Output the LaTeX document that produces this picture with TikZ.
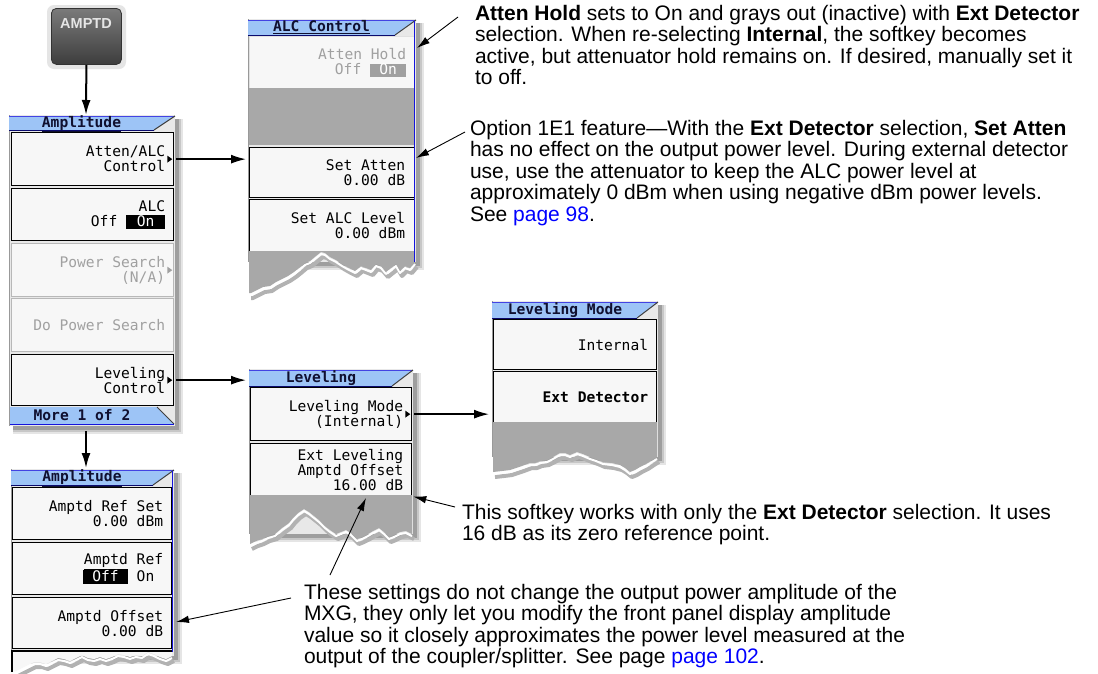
\documentclass[tikz,border=0pt]{standalone}
\usepackage{fontspec}
\setmainfont{Liberation Sans}
\newfontfamily\keyfont{DejaVu Sans Mono}
\usetikzlibrary{arrows.meta,calc}
\definecolor{titleblue}{RGB}{157,196,246}
\definecolor{titleink}{RGB}{16,16,48}
\definecolor{edgeblue}{RGB}{20,20,220}
\definecolor{keyfill}{RGB}{247,247,247}
\definecolor{panelbg}{RGB}{232,232,232}
\definecolor{slotgray}{RGB}{168,168,168}
\definecolor{dimink}{RGB}{160,160,160}
\definecolor{linkblue}{RGB}{0,0,255}
\newcommand\invtag[3]{{\setlength{\fboxsep}{0pt}\colorbox{#1}{\makebox[#2]{\rule[-2.5pt]{0pt}{12pt}\textcolor{white}{#3}}}}}
\newcommand\menuframe[4]{%
  \fill[black!10] (#1+4,#2+4) rectangle (#3+8,#4+8);
  \fill[black!22] (#1+4,#2+4) rectangle (#3+6,#4+6);
  \fill[black!38] (#1+4,#2+4) rectangle (#3+4,#4+4);
  \fill[panelbg] (#1,#2) rectangle (#3,#4);
  \draw[black!40, line width=0.8pt] (#1,#2) -- (#1,#4);
}
\newcommand\mtitlebar[4]{%
  \fill[titleblue] (#1,#2) -- (#3,#2) -- (#3-21,#4) -- (#1,#4) -- cycle;
  \draw[edgeblue!80, line width=0.8pt] (#1,#2) -- (#3,#2);
  \draw[edgeblue!50!black, line width=0.8pt] (#1,#4) -- (#3-21,#4);
  \draw[black!75, line width=1pt] (#3-21,#4) -- (#3,#2);
}
\newcommand\subtri[2]{%
  \fill[#2] ($(#1.east)+(-7,-3.5)$) -- ($(#1.east)+(-2,0)$) -- ($(#1.east)+(-7,3.5)$) -- cycle;
}
\tikzset{
  bodytext/.style={anchor=north west, inner sep=0pt, outer sep=0pt, align=left,
    font=\fontsize{21}{21.5}\selectfont},
  keytext/.style={anchor=east, inner sep=0pt, align=right,
    font=\keyfont\fontsize{14.6}{15}\selectfont},
  dimtext/.style={keytext, text=dimink},
  titletext/.style={anchor=base, inner sep=0pt,
    font=\keyfont\bfseries\fontsize{14.6}{15}\selectfont, text=titleink},
  skey/.style={draw=black, line width=1.3pt, fill=keyfill, inner sep=0pt, anchor=north west},
  dimkey/.style={skey, draw=black!28},
  flowarrow/.style={-{Latex[length=15pt,width=9pt]}, line width=1.5pt},
  callout/.style={-{Latex[length=13pt,width=7.5pt]}, line width=0.9pt},
  jagALC/.style={insert path={-- (410,268) -- (405,266) -- (400,271) -- (396,264) -- (391,268) -- (386,272) -- (381,266) -- (376,264) -- (371,270) -- (366,268) -- (361,266) -- (355,271) -- (349,268) -- (342,264) -- (336,260) -- (330,257) -- (325,253) -- (321,252) -- (316,256) -- (310,261) -- (305,263) -- (299,268) -- (294,272) -- (288,276) -- (282,279) -- (276,282) -- (270,286) -- (263,287) -- (257,290) -- (251,293) -- (249,293)}},
  jagLEV/.style={insert path={-- (406,531) -- (400,532) -- (394,535) -- (389,537) -- (384,532) -- (379,528) -- (373,531) -- (368,534) -- (362,537) -- (357,539) -- (351,533) -- (346,530) -- (341,532) -- (336,534) -- (330,530) -- (325,526) -- (319,520) -- (314,516) -- (309,512) -- (304,509) -- (298,513) -- (293,518) -- (289,523) -- (282,528) -- (275,534) -- (268,536) -- (262,539) -- (256,541) -- (250,544)}},
  jagLM/.style={insert path={-- (652,460) -- (646,464) -- (640,467) -- (635,470) -- (630,472) -- (625,468) -- (620,465) -- (612,463) -- (603,462) -- (596,459) -- (590,457) -- (583,454) -- (577,452) -- (570,455) -- (565,453) -- (560,453) -- (553,457) -- (547,460) -- (540,461) -- (535,463) -- (530,463) -- (522,466) -- (516,468) -- (510,470) -- (502,471) -- (493,472)}},
  jagMB/.style={insert path={-- (166,659) -- (160,657) -- (154,654) -- (148,652) -- (142,656) -- (136,655) -- (130,657) -- (124,655) -- (118,654) -- (112,657) -- (106,659) -- (100,657) -- (94,659) -- (88,658) -- (82,655) -- (76,658) -- (70,661) -- (64,659) -- (58,658) -- (52,661) -- (46,664) -- (40,662) -- (34,662) -- (28,665) -- (22,668) -- (16,671) -- (12,672)}},
}
\begin{document}
\begin{tikzpicture}[x=1pt,y=-1pt]
\useasboundingbox (0,0) rectangle (1098,673);
\fill[white] (0,0) rectangle (1098,673);

% ---------- AMPTD hardkey ----------
\fill[black!10, rounded corners=7pt] (47,5) rectangle (126,69);
\node[draw=black!80, line width=0.8pt, rounded corners=5pt, minimum width=70pt, minimum height=56pt,
  top color=black!52, bottom color=black!76, anchor=north west] (amptd) at (51,8) {};
\node[font=\bfseries\fontsize{14.5}{14.5}\selectfont, text=black!10, inner sep=0pt] (amptdlbl) at (86,24) {AMPTD};

% ---------- Amplitude menu (page 1) ----------
\menuframe{9}{115}{175}{426}
\mtitlebar{9}{116}{175}{130}
\node[titletext] (m1title) at (81.5,127) {\underline{Amplitude}};
\node[skey, minimum width=162pt, minimum height=53pt] (m1k1) at (11,132) {};
\node[skey, minimum width=162pt, minimum height=52pt] (m1k2) at (11,188) {};
\node[dimkey, minimum width=162pt, minimum height=53pt] (m1k3) at (11,243) {};
\node[dimkey, minimum width=162pt, minimum height=53pt] (m1k4) at (11,298) {};
\node[skey, minimum width=162pt, minimum height=51pt] (m1k5) at (11,354) {};
\node[keytext] (m1k1t) at ([xshift=-9pt]m1k1.east) {Atten/ALC\\Control};
\node[keytext] (m1k2t) at ([xshift=-9pt]m1k2.east) {ALC\\Off \invtag{black}{39pt}{On}};
\node[dimtext] (m1k3t) at ([xshift=-9pt]m1k3.east) {Power Search\\(N/A)};
\node[dimtext] (m1k4t) at ([xshift=-9pt]m1k4.east) {Do Power Search};
\node[keytext] (m1k5t) at ([xshift=-9pt]m1k5.east) {Leveling\\Control};
\subtri{m1k1}{black}
\subtri{m1k3}{dimink}
\subtri{m1k5}{black}
\fill[titleblue] (10,407) -- (157,407) -- (174,424) -- (10,424) -- cycle;
\draw[black!75, line width=1pt] (157,407) -- (174,424);
\draw[edgeblue, line width=1.2pt] (10,424.5) -- (174,424.5);
\node[titletext] (m1more) at (82,420) {More 1 of 2};

% ---------- Amplitude menu (page 2) ----------
\menuframe{11}{469}{174}{656}
\mtitlebar{11}{470}{174}{485}
\node[titletext] (m2title) at (82,481.5) {\underline{Amplitude}};
\node[skey, minimum width=159pt, minimum height=52pt] (m2k1) at (12,487) {};
\node[skey, minimum width=159pt, minimum height=52pt] (m2k2) at (12,542) {};
\node[skey, minimum width=159pt, minimum height=51pt] (m2k3) at (12,597) {};
\node[keytext] (m2k1t) at ([xshift=-9pt]m2k1.east) {Amptd Ref Set\\0.00 dBm};
\node[keytext] (m2k2t) at ([xshift=-9pt]m2k2.east) {\underline{Amptd} Ref\\\invtag{black}{45pt}{Off} On\phantom{x}};
\node[keytext] (m2k3t) at ([xshift=-9pt]m2k3.east) {Amptd Offset\\0.00 dB};
\begin{scope}[shift={(2,5)}]
  \draw[black!30, line width=4pt, line join=round] (172,656) [jagMB];
\end{scope}
\begin{scope}[shift={(0,2)}]
  \draw[white, line width=2pt, line join=round] (172,656) [jagMB];
\end{scope}
\fill[keyfill] (12,651) -- (172,651) -- (172,656) [jagMB] -- cycle;
\draw[black, line width=1.3pt] (12,672) -- (12,651) -- (172,651);
\draw[edgeblue, line width=1.6pt] (172.5,471) -- (172.5,652);

% ---------- ALC Control menu ----------
\menuframe{248}{19}{416}{262}
\mtitlebar{248}{20}{416}{35}
\node[titletext] (alctitle) at (321.5,31.5) {\underline{ALC Control}};
\node[skey, draw=black!12, minimum width=165pt, minimum height=52pt] (alck1) at (249,36) {};
\fill[slotgray] (249,88) rectangle (415,145);
\node[skey, minimum width=165pt, minimum height=50pt] (alck3) at (249,147) {};
\node[skey, minimum width=165pt, minimum height=52pt] (alck4) at (249,199) {};
\node[dimtext] (alck1t) at ([xshift=-9pt]alck1.east) {Atten Hold\\Off \invtag{dimink}{36pt}{On}};
\node[keytext] (alck3t) at ([xshift=-10pt]alck3.east) {Set Atten\\0.00 dB};
\node[keytext] (alck4t) at ([xshift=-10pt]alck4.east) {Set ALC Level\\0.00 dBm};
\begin{scope}[shift={(2,5)}]
  \draw[black!30, line width=4pt, line join=round] (415,262) [jagALC];
\end{scope}
\begin{scope}[shift={(0,2)}]
  \draw[white, line width=2pt, line join=round] (415,262) [jagALC];
\end{scope}
\fill[slotgray] (249,251) -- (415,251) -- (415,262) [jagALC] -- cycle;
\draw[edgeblue, line width=1.6pt] (414.5,21) -- (414.5,262);

% ---------- Leveling menu ----------
\menuframe{249}{369}{413}{534}
\mtitlebar{249}{370}{413}{386}
\node[titletext] (levtitle) at (321,382.5) {\underline{Leveling}};
\node[skey, minimum width=161pt, minimum height=53pt] (levk1) at (250,387) {};
\node[skey, minimum width=161pt, minimum height=52pt] (levk2) at (250,443) {};
\node[keytext] (levk1t) at ([xshift=-9pt]levk1.east) {Leveling Mode\\(Internal)};
\node[keytext] (levk2t) at ([xshift=-9pt]levk2.east) {Ext Leveling\\Amptd Offset\\16.00 dB};
\subtri{levk1}{black}
\begin{scope}[shift={(2,5)}]
  \draw[black!30, line width=4pt, line join=round] (412,534) [jagLEV];
\end{scope}
\begin{scope}[shift={(0,2)}]
  \draw[white, line width=2pt, line join=round] (412,534) [jagLEV];
\end{scope}
\fill[slotgray] (250,495) -- (412,495) -- (412,534) [jagLEV] -- cycle;

% ---------- Leveling Mode menu ----------
\menuframe{492}{301}{658}{457}
\mtitlebar{492}{302}{658}{318}
\node[titletext] (lmtitle) at (565,314.5) {\underline{Leveling Mode}};
\node[skey, minimum width=163pt, minimum height=50pt] (lmk1) at (493,319) {};
\node[skey, minimum width=163pt, minimum height=51pt] (lmk2) at (493,371) {};
\node[keytext] (lmk1t) at ([xshift=-9pt]lmk1.east) {Internal};
\node[keytext] (lmk2t) at ([xshift=-9pt]lmk2.east) {\bfseries Ext Detector};
\begin{scope}[shift={(2,5)}]
  \draw[black!30, line width=4pt, line join=round] (657,457) [jagLM];
\end{scope}
\begin{scope}[shift={(0,2)}]
  \draw[white, line width=2pt, line join=round] (657,457) [jagLM];
\end{scope}
\fill[slotgray] (493,422) -- (657,422) -- (657,457) [jagLM] -- cycle;

% ---------- Explanatory texts ----------
\node[bodytext] (note1) at (475,5) {\textbf{Atten Hold} sets to On and grays out (inactive) with \textbf{Ext Detector}\\selection. When re-selecting \textbf{Internal}, the softkey becomes\\active, but attenuator hold remains on. If desired, manually set it\\to off.};
\node[bodytext] (note2) at (470,120) {Option 1E1 feature—With the \textbf{Ext Detector} selection, \textbf{Set Atten}\\has no effect on the output power level. During external detector\\use, use the attenuator to keep the ALC power level at\\approximately 0 dBm when using negative dBm power levels.\\See \textcolor{linkblue}{page 98}.};
\node[bodytext] (note3) at (462,504) {This softkey works with only the \textbf{Ext Detector} selection. It uses\\16 dB as its zero reference point.};
\node[bodytext] (note4) at (304,584) {These settings do not change the output power amplitude of the\\MXG, they only let you modify the front panel display amplitude\\value so it closely approximates the power level measured at the\\output of the coupler/splitter. See page \textcolor{linkblue}{page 102}.};

% ---------- Coordinates for connector ends ----------
\coordinate (m1top) at (86,115);
\coordinate (m1bot) at (86,431);
\coordinate (m2top) at (86,468);
\coordinate (n1tail) at (458,17);
\coordinate (n1tip) at (417,48);
\coordinate (n2tail) at (465,132);
\coordinate (n2tip) at (416,158);
\coordinate (n3tail) at (455,507);
\coordinate (n4tailA) at (330,575);
\coordinate (n4tipA) at (366,498);
\coordinate (n4tailB) at (291,598);
\coordinate (n4tipB) at (176,622);

% ---------- Connectors ----------
\draw[flowarrow, line width=2pt] (amptd.south) -- (m1top);
\draw[flowarrow, line width=2pt] (m1bot) -- (m2top);
\draw[flowarrow, shorten >=3pt] ([xshift=2pt]m1k1.east) -- (m1k1.east -| alck3.west);
\draw[flowarrow, shorten >=4pt] ([xshift=2pt]m1k5.east) -- (m1k5.east -| levk1.west);
\draw[flowarrow, shorten >=4pt] ([xshift=2pt]levk1.east) -- (levk1.east -| lmk2.west);
\draw[callout] (n1tail) -- (n1tip);
\draw[callout] (n2tail) -- (n2tip);
\draw[callout, shorten >=1pt] (n3tail) -- (levk2.south east);
\draw[callout] (n4tailA) -- (n4tipA);
\draw[callout] (n4tailB) -- (n4tipB);
\end{tikzpicture}
\end{document}
